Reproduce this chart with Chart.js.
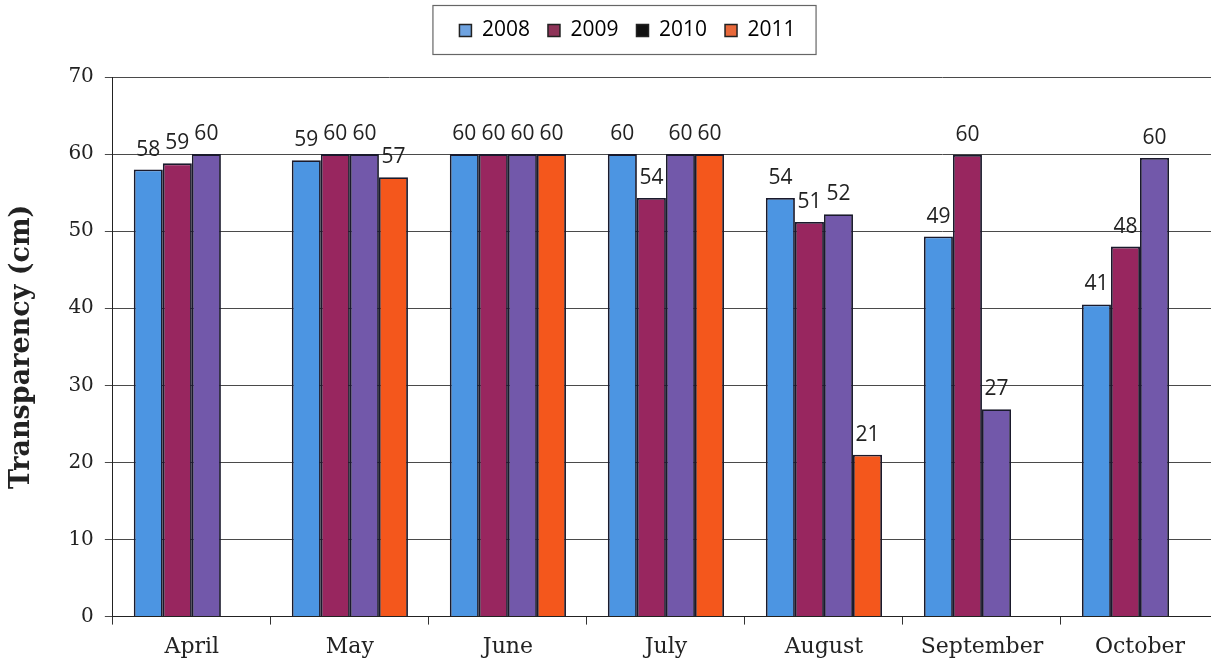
<!DOCTYPE html>
<html>
<head>
<meta charset="utf-8">
<script src="https://cdn.jsdelivr.net/npm/chart.js@4.4.1/dist/chart.umd.min.js"></script>
<style>
  html, body { margin:0; padding:0; background:#fff; overflow:hidden; }
  #wrap { width:1219px; height:671px; }
</style>
</head>
<body>
<div id="wrap"><canvas id="c" width="1219" height="671"></canvas></div>
<script>
const months = ["April", "May", "June", "July", "August", "September", "October"];
const years = ["2008", "2009", "2010", "2011"];
const v2008 = [58.0, 59.2, 60, 60, 54.3, 49.3, 40.5];
const v2009 = [58.8, 60, 60, 54.3, 51.2, 59.9, 48.0];
const v2010 = [60, 60, 60, 60, 52.2, 26.9, 59.5];
const v2011 = [null, 57, 60, 60, 21, null, null];
const yTicks = [0, 10, 20, 30, 40, 50, 60, 70];

const barColors = ["#4C95E2", "#98265F", "#7258AA", "#F4571C"];
const legendColors = ["#6FA3E0", "#8E3358", "#111111", "#E8683A"];
const seriesValues = [v2008, v2009, v2010, v2011];

const datasets = years.map((y, i) => ({
  label: y,
  data: seriesValues[i],
  backgroundColor: barColors[i],
  borderColor: "#1a1a2c",
  borderWidth: 1.8,
  barPercentage: 1.0,
  categoryPercentage: 0.735
}));

const valueLabels = {
  id: "valueLabels",
  afterDatasetsDraw(chart) {
    const ctx = chart.ctx;
    ctx.save();
    ctx.font = "21px 'Open Sans', 'Noto Sans', sans-serif";
    ctx.fillStyle = "#222";
    ctx.textAlign = "center";
    ctx.textBaseline = "alphabetic";
    chart.data.datasets.forEach((ds, di) => {
      const meta = chart.getDatasetMeta(di);
      meta.data.forEach((el, i) => {
        const v = ds.data[i];
        if (v === null || v === undefined) return;
        ctx.fillText(String(Math.round(v)), el.x, el.y - 14);
      });
    });
    ctx.restore();
  }
};

const legendFix = {
  id: "legendFix",
  beforeLayout(chart) {
    const lg = chart.legend;
    if (lg && !lg._fitPatched) {
      const orig = lg.fit;
      lg.fit = function () { orig.call(this); this.height = 75; };
      lg._fitPatched = true;
    }
  },
  afterLayout(chart) {
    const lg = chart.legend;
    lg.left += 15; lg.right += 15;
  },
  afterDraw(chart) {
    const hb = chart.legend.legendHitBoxes;
    if (!hb || !hb.length) return;
    const ctx = chart.ctx;
    const l = hb[0].left - 27;
    const last = hb[hb.length - 1];
    const r = last.left + last.width + 20;
    const t = 5, b = 54;
    ctx.save();
    ctx.strokeStyle = "#666";
    ctx.lineWidth = 1.2;
    ctx.strokeRect(l + 0.5, t + 0.5, r - l, b - t);
    ctx.restore();
  }
};

new Chart(document.getElementById("c"), {
  type: "bar",
  data: { labels: months, datasets },
  plugins: [valueLabels, legendFix],
  options: {
    responsive: false,
    animation: false,
    layout: { padding: { top: 2, left: 6, right: 0, bottom: 2 } },
    plugins: {
      tooltip: { enabled: false },
      legend: {
        position: "top",
        labels: {
          boxWidth: 12,
          boxHeight: 12,
          padding: 18,
          color: "#222",
          font: { family: "'Open Sans', 'Noto Sans', sans-serif", size: 21 },
          generateLabels(chart) {
            return chart.data.datasets.map((ds, i) => ({
              text: ds.label,
              fillStyle: legendColors[i],
              strokeStyle: "#222",
              lineWidth: 1.5,
              datasetIndex: i,
              hidden: false
            }));
          }
        }
      }
    },
    scales: {
      x: {
        grid: {
          display: true,
          drawOnChartArea: false,
          drawTicks: true,
          tickLength: 8,
          color: "#333",
          offset: true
        },
        border: { display: true, color: "#222", width: 1 },
        ticks: {
          color: "#222",
          padding: 9,
          font: { family: "'DejaVu Serif', serif", size: 22 }
        }
      },
      y: {
        min: 0,
        max: 70,
        afterBuildTicks(scale) { scale.ticks = yTicks.map(v => ({ value: v })); },
        grid: {
          color: "#4a4a4a",
          lineWidth: 1,
          drawTicks: true,
          tickLength: 8
        },
        border: { display: true, color: "#222", width: 1 },
        ticks: {
          color: "#222",
          padding: 11,
          font: { family: "'DejaVu Serif', serif", size: 20 }
        },
        title: {
          display: true,
          text: "Transparency (cm)",
          color: "#222",
          padding: { top: 0, bottom: 19 },
          font: { family: "'DejaVu Serif', serif", size: 27, weight: "bold" }
        }
      }
    }
  }
});
</script>
</body>
</html>
